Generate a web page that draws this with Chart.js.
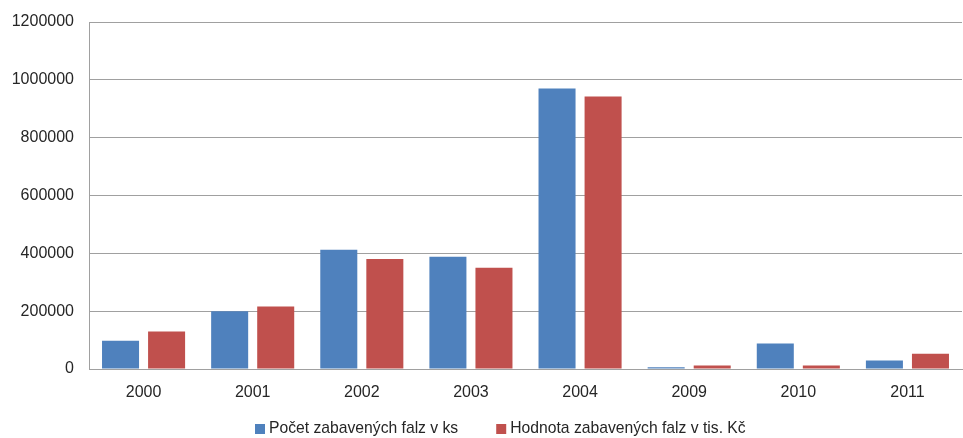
<!DOCTYPE html>
<html>
<head>
<meta charset="utf-8">
<script src="https://cdn.jsdelivr.net/npm/chart.js@4/dist/chart.umd.min.js"></script>
<style>
  html, body { margin: 0; padding: 0; background: #fff; }
  #wrap { width: 963px; height: 438px; position: relative; }
</style>
</head>
<body>
<div id="wrap"><canvas id="c" width="963" height="438"></canvas></div>
<script>
// Zabavené padělky podle let
const years = ['2000', '2001', '2002', '2003', '2004', '2009', '2010', '2011'];
const pocetKs = [98000, 200000, 412000, 388000, 970000, 6000, 88000, 29000];
const hodnotaTisKc = [130000, 216000, 380000, 350000, 942000, 12000, 12000, 53000];
const yTicks = [0, 200000, 400000, 600000, 800000, 1000000, 1200000];

const FONT = 'Liberation Sans';
const TEXT = '#262626';

// Legend row under the axis: square swatch + series name, items centred
const bottomLegend = {
  id: 'bottomLegend',
  afterDraw(chart, args, opts) {
    const ctx = chart.ctx;
    const sets = chart.data.datasets;
    ctx.save();
    ctx.font = `${opts.fontSize}px "${FONT}"`;
    ctx.textBaseline = 'middle';
    ctx.textAlign = 'left';
    const widths = sets.map(ds => opts.box + opts.textGap + ctx.measureText(ds.label).width);
    const total = widths.reduce((a, b) => a + b, 0) + opts.itemGap * (sets.length - 1);
    let x = Math.round(opts.centerX - total / 2);
    sets.forEach((ds, i) => {
      ctx.fillStyle = ds.backgroundColor;
      ctx.fillRect(x, Math.round(opts.centerY - opts.box / 2), opts.box, opts.box);
      ctx.fillStyle = TEXT;
      ctx.fillText(ds.label, x + opts.box + opts.textGap, opts.centerY);
      x += widths[i] + opts.itemGap;
    });
    ctx.restore();
  }
};

new Chart(document.getElementById('c'), {
  type: 'bar',
  data: {
    labels: years,
    datasets: [
      {
        label: 'Počet zabavených falz v ks',
        data: pocetKs,
        backgroundColor: '#4F81BD',
        categoryPercentage: 0.844,
        barPercentage: 0.804
      },
      {
        label: 'Hodnota zabavených falz v tis. Kč',
        data: hodnotaTisKc,
        backgroundColor: '#C0504D',
        categoryPercentage: 0.844,
        barPercentage: 0.804
      }
    ]
  },
  options: {
    responsive: false,
    animation: false,
    devicePixelRatio: 1,
    layout: { padding: { left: 4, right: 1, top: 22, bottom: 35 } },
    scales: {
      x: {
        grid: { display: false, drawTicks: false },
        border: { color: '#a0a0a0', width: 1 },
        ticks: { color: TEXT, font: { family: FONT, size: 16 }, padding: 14 },
        afterFit: (axis) => { axis.height = 34; }
      },
      y: {
        min: 0,
        max: 1200000,
        afterBuildTicks: (axis) => { axis.ticks = yTicks.map(v => ({ value: v })); },
        grid: { color: '#a0a0a0', drawTicks: false },
        border: { color: '#a0a0a0', width: 1 },
        ticks: {
          color: TEXT,
          font: { family: FONT, size: 16 },
          padding: 15,
          callback: (v) => String(v)
        },
        afterFit: (axis) => { axis.width = 85; axis.paddingTop = 0; axis.paddingBottom = 0; }
      }
    },
    plugins: {
      legend: { display: false },
      tooltip: { enabled: false },
      bottomLegend: { fontSize: 15.7, box: 10, textGap: 4, itemGap: 38, centerX: 500, centerY: 429 }
    }
  },
  plugins: [bottomLegend]
});
</script>
</body>
</html>
